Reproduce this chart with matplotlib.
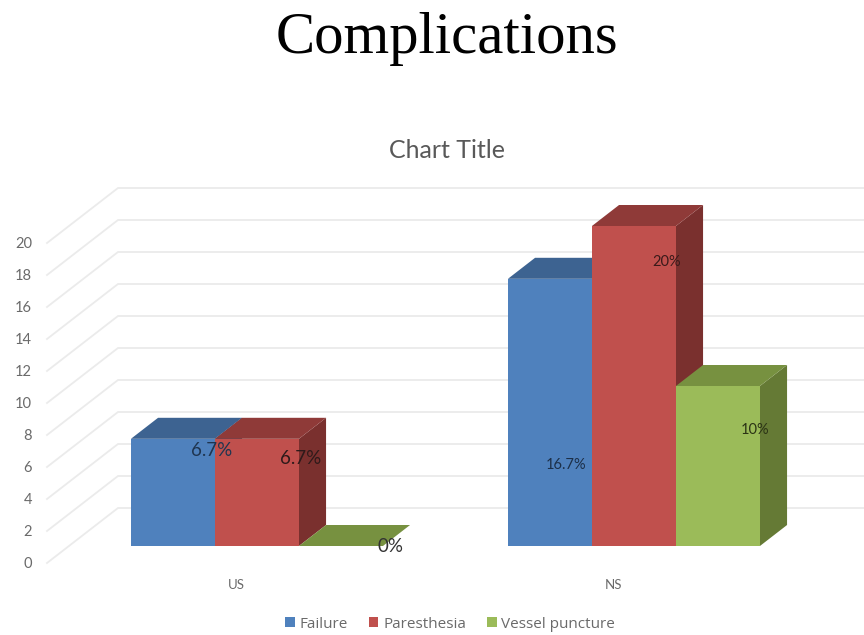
import matplotlib
matplotlib.use("Agg")
import matplotlib.pyplot as plt
from matplotlib.patches import Polygon, Patch

categories = ["US", "NS"]
series_names = ["Failure", "Paresthesia", "Vessel puncture"]
failure = [6.7, 16.7]
paresthesia = [6.7, 20]
vessel_puncture = [0, 10]
value_ticks = list(range(0, 21, 2))

# Face shades per series: front, top, side
front_colors = ["#4F81BD", "#C0504D", "#9BBB59"]
top_colors = ["#3D6391", "#8F3A38", "#779140"]
side_colors = ["#34557C", "#7A302E", "#657A35"]

W, H = 864, 635
PX_X = 377.0   # pixels per category step
PX_Y = 16.0    # pixels per value unit
ORIGIN_X, ORIGIN_Y = 235.0, 563.0

fig = plt.figure(figsize=(W / 100, H / 100), dpi=100, facecolor="white")
ax = fig.add_axes([0, 0, 1, 1])
ax.set_xlim(-ORIGIN_X / PX_X, (W - ORIGIN_X) / PX_X)
ax.set_ylim(-(H - ORIGIN_Y) / PX_Y, ORIGIN_Y / PX_Y)
ax.set_axis_off()

# Oblique projection: depth 0 is the front of the floor, depth 1 the back wall
DEPTH_X = 71.0 / PX_X
DEPTH_Y = 55.0 / PX_Y
BAR_D0, BAR_D1 = 17.0 / 55.0, 38.0 / 55.0
BAR_W = 84.0 / PX_X
WALL_X = (47.0 - ORIGIN_X) / PX_X


def project(x, v, d):
    return (x + d * DEPTH_X, v + d * DEPTH_Y)


# Gridlines: a diagonal on the side wall, then the run along the back wall
for v in value_ticks:
    p0 = project(WALL_X, v, 0)
    p1 = project(WALL_X, v, 1)
    ax.plot([p0[0], p1[0], ax.get_xlim()[1]], [p0[1], p1[1], p1[1]],
            color="#EBEBEB", lw=1.3, zorder=1, solid_joinstyle="miter")
    ax.text(p0[0] - 15.0 / PX_X, v - 1.0 / PX_Y, str(v), ha="right", va="center",
            fontsize=10.5, color="#6A6A6A", family="Lato")


def draw_bar(x0, v, k):
    x1 = x0 + BAR_W
    front = [project(x0, 0, BAR_D0), project(x1, 0, BAR_D0),
             project(x1, v, BAR_D0), project(x0, v, BAR_D0)]
    top = [project(x0, v, BAR_D0), project(x1, v, BAR_D0),
           project(x1, v, BAR_D1), project(x0, v, BAR_D1)]
    side = [project(x1, 0, BAR_D0), project(x1, 0, BAR_D1),
            project(x1, v, BAR_D1), project(x1, v, BAR_D0)]
    ax.add_patch(Polygon(side, closed=True, fc=side_colors[k], ec="none", zorder=3))
    ax.add_patch(Polygon(top, closed=True, fc=top_colors[k], ec="none", zorder=3))
    ax.add_patch(Polygon(front, closed=True, fc=front_colors[k], ec="none", zorder=3))


all_series = [failure, paresthesia, vessel_puncture]
for c in range(len(categories)):
    for k, values in enumerate(all_series):
        draw_bar(c + (k - 1.5) * BAR_W, values[c], k)
    ax.text(c + 1.0 / PX_X, -22.0 / PX_Y, categories[c], ha="center", va="center",
            fontsize=9.5, color="#6A6A6A", family="Lato")

# Value labels, placed relative to the top-right front corner of each bar
label_style = {
    (0, 0): (-3, 12, 13.5, "#1F3550"),
    (0, 1): (2, 20, 13.5, "#2E1A1A"),
    (0, 2): (8, 1, 13.5, "#333333"),
    (1, 0): (-26, 186, 10.5, "#1C2F48"),
    (1, 1): (-9, 36, 10.5, "#3A1A1A"),
    (1, 2): (-5, 44, 10.5, "#2B3315"),
}
for c in range(len(categories)):
    for k, values in enumerate(all_series):
        v = values[c]
        dx, dy, size, color = label_style[(c, k)]
        x, y = project(c + (k - 0.5) * BAR_W, v, BAR_D0)
        ax.text(x + dx / PX_X, y - dy / PX_Y, f"{v:g}%", ha="center", va="center",
                fontsize=size, color=color, family="Lato", zorder=5)

fig.text(447 / W, 1 - 39 / H, "Complications", ha="center", va="center",
         fontsize=42.3, color="black", family="Liberation Serif")
fig.text(447 / W, 1 - 150 / H, "Chart Title", ha="center", va="center",
         fontsize=18, color="#595959", family="Lato")

handles = [Patch(fc=col, ec="none") for col in front_colors]
fig.legend(handles, series_names, loc="center", bbox_to_anchor=(450 / W, 1 - 624 / H),
           ncol=3, frameon=False, handlelength=0.65, handleheight=0.65,
           handletextpad=0.3, columnspacing=1.37,
           prop={"family": "Open Sans", "size": 11}, labelcolor="#6A6A6A")

fig.savefig("out.png", dpi=100, facecolor="white")
